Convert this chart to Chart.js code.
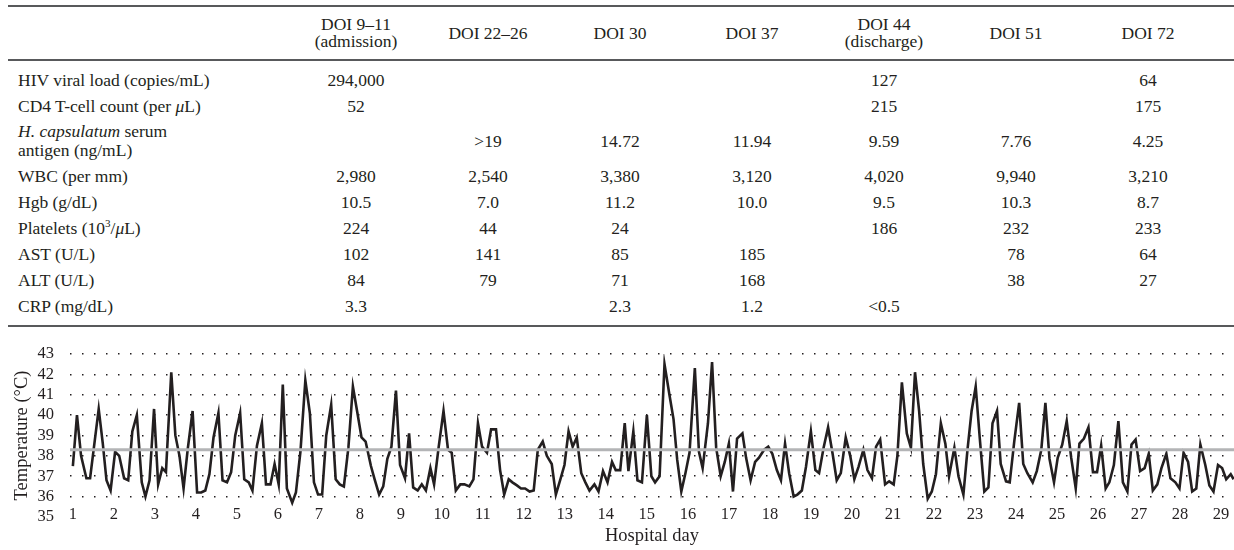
<!DOCTYPE html>
<html>
<head>
<meta charset="utf-8">
<script src="https://cdn.jsdelivr.net/npm/chart.js@4.4.1/dist/chart.umd.min.js"></script>
<style>
  body { margin: 0; width: 1234px; height: 550px; background: #fff; position: relative; overflow: hidden;
         font-family: "Liberation Serif", "DejaVu Serif", serif; color: #231f20; }
  #labs { position: absolute; left: 8px; top: 5px; width: 1226px; border-collapse: collapse; font-size: 17.5px;
          border-top: 2px solid #58595b; border-bottom: 2px solid #58595b; table-layout: fixed; }
  #labs th { font-weight: normal; height: 52px; line-height: 17px; padding: 0; text-align: center;
             border-bottom: 2px solid #58595b; white-space: nowrap; }
  #labs td { padding: 0; height: 26px; text-align: center; vertical-align: middle; white-space: nowrap; }
  #labs td.lab { text-align: left; padding-left: 10px; }
  #labs tr.two td { height: 44px; line-height: 19px; }
  #labs tr.gap td { height: 6px; }
  #chartBox { position: absolute; left: 0; top: 328px; width: 1234px; height: 222px; }
</style>
</head>
<body>
<table id="labs">
  <colgroup>
    <col style="width:282px">
    <col style="width:132px"><col style="width:132px"><col style="width:132px"><col style="width:132px">
    <col style="width:132px"><col style="width:132px"><col style="width:132px">
    <col style="width:20px">
  </colgroup>
  <thead><tr id="headRow"></tr></thead>
  <tbody id="labBody"></tbody>
</table>
<div id="chartBox"><canvas id="tempChart" width="1234" height="222"></canvas></div>

<script>
// table: days of illness and lab values
var doiHeads = [["DOI 9–11", "(admission)"], ["DOI 22–26"], ["DOI 30"], ["DOI 37"], ["DOI 44", "(discharge)"], ["DOI 51"], ["DOI 72"]];
var labNames = ["HIV viral load (copies/mL)", "CD4 T-cell count (per <i>μ</i>L)",
  "<i>H. capsulatum</i> serum<br>antigen (ng/mL)", "WBC (per mm)", "Hgb (g/dL)",
  "Platelets (10<sup style=\"font-size:11px\">3</sup>/<i>μ</i>L)", "AST (U/L)", "ALT (U/L)", "CRP (mg/dL)"];
var hivLoad = ["294,000", "", "", "", "127", "", "64"];
var cd4Count = ["52", "", "", "", "215", "", "175"];
var histoAntigen = ["", ">19", "14.72", "11.94", "9.59", "7.76", "4.25"];
var wbc = ["2,980", "2,540", "3,380", "3,120", "4,020", "9,940", "3,210"];
var hgb = ["10.5", "7.0", "11.2", "10.0", "9.5", "10.3", "8.7"];
var platelets = ["224", "44", "24", "", "186", "232", "233"];
var ast = ["102", "141", "85", "185", "", "78", "64"];
var alt = ["84", "79", "71", "168", "", "38", "27"];
var crp = ["3.3", "", "2.3", "1.2", "<0.5", "", ""];

// chart: temperature readings (hospital day, °C)
var hospDay = [
  1.00, 1.10, 1.20, 1.33, 1.42, 1.63, 1.73, 1.82, 1.92, 2.03, 2.13, 2.25, 2.35, 2.45, 2.56, 2.68, 2.77, 2.87, 2.98,
  3.08, 3.18, 3.27, 3.40, 3.50, 3.60, 3.70, 3.80, 3.92, 4.03, 4.13, 4.23, 4.33, 4.43, 4.55, 4.65, 4.76, 4.86, 4.96,
  5.08, 5.18, 5.29, 5.38, 5.49, 5.61, 5.71, 5.82, 5.92, 6.02, 6.12, 6.22, 6.35, 6.44, 6.55, 6.67, 6.78, 6.88, 6.98,
  7.08, 7.18, 7.30, 7.41, 7.51, 7.61, 7.72, 7.83, 7.94, 8.04, 8.14, 8.27, 8.36, 8.47, 8.57, 8.67, 8.77, 8.88, 8.98,
  9.10, 9.20, 9.30, 9.41, 9.51, 9.61, 9.72, 9.81, 9.92, 10.04, 10.15, 10.24, 10.34, 10.45, 10.55, 10.67, 10.77, 10.88, 10.98,
  11.10, 11.20, 11.32, 11.42, 11.52, 11.63, 11.72, 11.83, 11.93, 12.03, 12.14, 12.24, 12.34, 12.46, 12.56, 12.68, 12.78, 12.89, 12.99,
  13.09, 13.19, 13.29, 13.40, 13.50, 13.60, 13.72, 13.82, 13.93, 14.04, 14.15, 14.24, 14.35, 14.46, 14.55, 14.67, 14.77, 14.88,
  15.00, 15.11, 15.20, 15.31, 15.43, 15.55, 15.65, 15.74, 15.84, 15.94, 16.04, 16.17, 16.27, 16.36, 16.49, 16.59, 16.69, 16.80, 16.90,
  17.00, 17.10, 17.20, 17.33, 17.42, 17.53, 17.64, 17.73, 17.86, 17.96, 18.06, 18.17, 18.27, 18.37, 18.47, 18.58, 18.67, 18.78, 18.88,
  19.00, 19.11, 19.20, 19.31, 19.42, 19.53, 19.63, 19.73, 19.85, 19.96, 20.06, 20.16, 20.28, 20.38, 20.49, 20.59, 20.69, 20.81, 20.91,
  21.02, 21.11, 21.22, 21.34, 21.44, 21.54, 21.64, 21.74, 21.85, 21.95, 22.05, 22.17, 22.28, 22.37, 22.50, 22.60, 22.72, 22.82, 22.92,
  23.02, 23.12, 23.23, 23.33, 23.43, 23.54, 23.63, 23.76, 23.85, 23.96, 24.08, 24.18, 24.28, 24.41, 24.51, 24.62, 24.72, 24.82, 24.93,
  25.02, 25.13, 25.24, 25.35, 25.46, 25.55, 25.66, 25.77, 25.88, 25.98, 26.08, 26.19, 26.28, 26.39, 26.50, 26.61, 26.72, 26.82, 26.92,
  27.03, 27.14, 27.24, 27.34, 27.45, 27.55, 27.67, 27.77, 27.89, 27.99, 28.09, 28.20, 28.30, 28.40, 28.50, 28.62, 28.72, 28.82, 28.93,
  29.03, 29.13, 29.24, 29.31
];
var tempC = [
  37.5, 40.0, 38.0, 36.9, 36.9, 40.3, 38.6, 36.8, 36.3, 38.2, 38.0, 36.9, 36.8, 39.2, 40.0, 36.7, 36.0, 36.8, 40.3,
  36.6, 37.4, 37.2, 42.1, 39.0, 38.0, 36.4, 38.3, 40.2, 36.2, 36.2, 36.3, 37.1, 38.9, 40.1, 36.8, 36.7, 37.2, 39.0,
  40.1, 36.85, 36.7, 36.3, 38.5, 39.6, 36.6, 36.6, 37.6, 36.6, 41.5, 36.4, 35.7, 36.2, 38.2, 41.7, 40.1, 36.7, 36.1,
  36.1, 39.0, 40.5, 36.85, 36.6, 36.5, 38.4, 41.4, 40.1, 38.9, 38.7, 37.5, 36.85, 36.1, 36.5, 37.85, 38.45, 41.2, 37.55,
  36.9, 39.1, 36.45, 36.3, 36.6, 36.3, 37.4, 36.6, 38.4, 40.2, 38.3, 38.15, 36.3, 36.6, 36.6, 36.5, 36.85, 39.6, 38.45,
  38.15, 39.3, 39.3, 37.3, 36.1, 36.85, 36.7, 36.55, 36.4, 36.4, 36.25, 36.3, 38.3, 38.7, 38.0, 37.6, 36.1, 36.85, 37.55,
  39.2, 38.45, 38.9, 37.15, 36.7, 36.3, 36.6, 36.25, 37.25, 36.7, 37.7, 37.3, 37.3, 39.6, 37.25, 39.2, 36.8, 36.7,
  40.0, 37.0, 36.7, 37.0, 42.5, 41.0, 39.8, 37.8, 36.25, 37.15, 38.15, 42.3, 38.2, 37.4, 39.6, 42.6, 38.4, 37.0, 37.7,
  38.6, 36.25, 38.85, 39.1, 37.9, 36.8, 37.7, 37.9, 38.3, 38.45, 38.1, 37.3, 36.8, 38.6, 37.15, 36.0, 36.1, 36.3, 37.45,
  39.2, 37.3, 37.15, 38.4, 39.4, 38.1, 36.8, 37.15, 38.9, 38.0, 36.85, 37.45, 38.3, 37.3, 36.9, 38.45, 38.8, 36.6, 36.75,
  36.6, 38.0, 41.6, 39.1, 38.4, 42.1, 40.2, 37.6, 35.9, 36.25, 37.1, 39.6, 38.6, 37.0, 38.4, 37.0, 36.1, 38.3, 40.2,
  41.4, 38.85, 36.25, 36.45, 39.6, 40.2, 37.6, 36.75, 36.7, 38.7, 40.6, 37.6, 37.15, 36.7, 37.25, 38.3, 40.6, 37.85, 36.7,
  37.9, 38.55, 39.7, 37.9, 36.4, 38.6, 38.85, 39.4, 37.2, 37.2, 38.5, 36.4, 36.7, 37.55, 39.7, 36.7, 36.25, 38.55, 38.8,
  37.25, 37.4, 38.1, 36.3, 36.6, 37.4, 38.1, 36.9, 36.7, 36.4, 38.15, 37.7, 36.25, 36.4, 38.55, 37.55, 36.55, 36.25, 37.55,
  37.4, 36.85, 37.1, 36.85
];
var feverLine = 38.3;
var dayTicks = [1, 2, 3, 4, 5, 6, 7, 8, 9, 10, 11, 12, 13, 14, 15, 16, 17, 18, 19, 20, 21, 22, 23, 24, 25, 26, 27, 28, 29];
var tempTicks = [35, 36, 37, 38, 39, 40, 41, 42, 43];

function buildTable() {
  let head = document.getElementById("headRow");
  let html = "<th></th>";
  doiHeads.forEach(function(h) {
    html += "<th>" + h.join("<br>") + "</th>";
  });
  head.innerHTML = html + "<th></th>";

  let rows = [hivLoad, cd4Count, histoAntigen, wbc, hgb, platelets, ast, alt, crp];
  let body = "<tr class=\"gap\"><td colspan=\"9\"></td></tr>";
  rows.forEach(function(vals, i) {
    let cls = i == 2 ? " class=\"two\"" : "";
    body += "<tr" + cls + "><td class=\"lab\">" + labNames[i] + "</td>";
    vals.forEach(function(v) {
      body += "<td>" + v.replace("<", "&lt;").replace(">", "&gt;") + "</td>";
    });
    body += "<td></td></tr>";
  });
  body += "<tr class=\"gap\"><td colspan=\"9\"></td></tr>";
  document.getElementById("labBody").innerHTML = body;
}

function tempChart() {
  let ctx = document.getElementById("tempChart").getContext("2d");
  let points = hospDay.map(function(d, i) { return { x: d, y: tempC[i] }; });
  let xMin = 0.93, xMax = 29.32;
  let tickFont = { family: "'Liberation Serif', serif", size: 16.5 };
  let titleFont = { family: "'Liberation Serif', serif", size: 18.5 };

  new Chart(ctx, {
    type: "line",
    data: {
      datasets: [{
        data: [{ x: xMin, y: feverLine }, { x: xMax, y: feverLine }],
        borderColor: "#b3b4b6",
        borderWidth: 3,
        pointRadius: 0
      }, {
        data: points,
        borderColor: "#231f20",
        borderWidth: 2.6,
        pointRadius: 0,
        tension: 0
      }]
    },
    options: {
      responsive: false,
      animation: false,
      devicePixelRatio: 1,
      layout: { padding: { top: 17, left: 0, right: 0, bottom: 0 } },
      plugins: { legend: { display: false }, tooltip: { enabled: false } },
      scales: {
        x: {
          type: "linear",
          min: xMin,
          max: xMax,
          afterBuildTicks: function(s) { s.ticks = dayTicks.map(function(v) { return { value: v }; }); },
          afterFit: function(s) { s.height = 33; },
          grid: { display: false, drawTicks: false },
          border: { display: false },
          ticks: { mirror: true, padding: -8, color: "#231f20", font: tickFont, maxRotation: 0, autoSkip: false },
          title: { display: true, text: "Hospital day", color: "#231f20", font: titleFont, padding: { top: 0, bottom: 3 } }
        },
        y: {
          min: 35,
          max: 43,
          afterBuildTicks: function(s) { s.ticks = tempTicks.map(function(v) { return { value: v }; }); },
          afterFit: function(s) { s.width = 70; },
          grid: {
            drawTicks: false,
            lineWidth: 1.5,
            color: function(c) { return c.tick && c.tick.value == 35 ? "rgba(0,0,0,0)" : "#231f20"; }
          },
          border: { display: false, dash: [1.5, 10.5] },
          ticks: { padding: 16, color: "#231f20", font: tickFont, autoSkip: false },
          title: { display: true, text: "Temperature (°C)", color: "#231f20", font: titleFont, padding: { top: 11, bottom: 0 } }
        }
      }
    }
  });
}

buildTable();
tempChart();
</script>
</body>
</html>
